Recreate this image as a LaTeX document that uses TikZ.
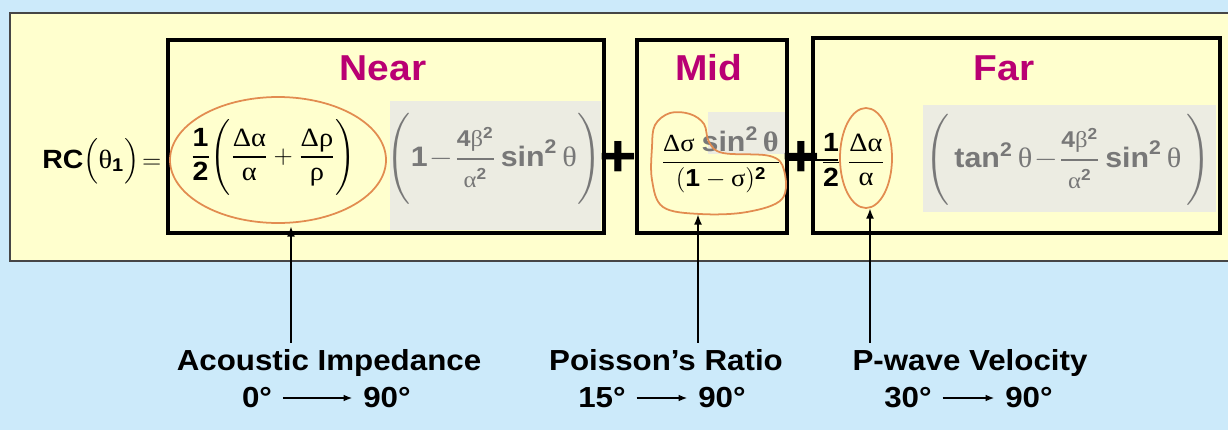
\documentclass[tikz,border=0pt]{standalone}
\usepackage{amsmath}
\usepackage{fontspec}
\setmainfont[FakeStretch=1.08]{Liberation Sans}
\newfontfamily\grk[FakeStretch=1.08]{Liberation Serif}
\usetikzlibrary{arrows.meta,positioning,shapes.geometric}

\definecolor{skyback}{RGB}{204,234,250}
\definecolor{paleband}{RGB}{255,255,206}
\definecolor{bandedge}{RGB}{70,70,70}
\definecolor{shadegray}{RGB}{236,236,226}
\definecolor{termgray}{RGB}{120,120,120}
\definecolor{zonecol}{RGB}{185,0,115}
\definecolor{ringorange}{RGB}{226,140,80}

\newcommand{\gal}{\text{\grk α}}
\newcommand{\grho}{\text{\grk ρ}}
\newcommand{\gsig}{\text{\grk σ}}
\newcommand{\gbet}{\text{\grk β}}
\newcommand{\gthe}{\text{\grk θ}}
\newcommand{\gDel}{\text{\grk Δ}}
\newcommand{\bnum}[1]{\text{\bfseries #1}}
\newcommand{\bsin}{\text{\bfseries sin}}
\newcommand{\btan}{\text{\bfseries tan}}
\newcommand{\betafrac}{\dfrac{\text{\fontsize{13}{15}\selectfont\bfseries 4{\mdseries\grk β}$^{\bnum{2}}$}}%
  {\text{\fontsize{13}{15}\selectfont{\grk α}$^{\bnum{2}}$}}}

\begin{document}
\begin{tikzpicture}[x=0.02cm,y=-0.02cm,
  zone/.style={draw=black,line width=1.8pt},
  zonetitle/.style={font=\fontsize{20.5}{24}\selectfont\bfseries,text=zonecol,anchor=base},
  term/.style={font=\fontsize{15}{17}\selectfont,inner sep=0pt},
  grayterm/.style={font=\fontsize{16}{18}\selectfont,text=termgray,inner sep=0pt},
  shade/.style={fill=shadegray},
  ring/.style={draw=ringorange,line width=1pt},
  plussign/.style={font=\fontsize{34}{34}\selectfont\bfseries,inner sep=0pt},
  caption/.style={font=\fontsize{16.5}{19}\selectfont\bfseries,anchor=base},
  degree/.style={font=\fontsize{16.5}{19}\selectfont\bfseries,inner xsep=6pt,inner ysep=1pt},
  ptr/.style={line width=1.4pt,-{Latex[length=6pt,width=4.5pt]}},
  degarrow/.style={line width=0.9pt,-{Latex[length=5pt,width=3.8pt]}}]

  \fill[skyback] (0,0) rectangle (1228,430);
  \useasboundingbox (0,0) rectangle (1228,430);
  \draw[draw=bandedge,fill=paleband,line width=0.8pt] (10,13) rectangle (1240,261);

  \fill[shade] (390,101) rectangle (601,230);
  \fill[shade] (708,112) rectangle (786,154);
  \fill[shade] (923,105) rectangle (1216,212);

  \draw[zone] (168,40) rectangle (604,233);
  \draw[zone] (637,40) rectangle (787,233);
  \draw[zone] (813,38) rectangle (1220,233);

  \node[zonetitle] (neartitle) at (383,80) {Near};
  \node[zonetitle] (midtitle) at (709,80) {Mid};
  \node[zonetitle] (fartitle) at (1004,80) {Far};

  \node[term,anchor=base west] (rc) at (42,168)
    {\textbf{RC}$\Bigl(\gthe_{\bnum{1}}\Bigr)\!=$};
  \node[term] (nearterm) at (273,157)
    {$\dfrac{\bnum{1}}{\bnum{2}}\Biggl(\dfrac{\gDel\gal}{\gal}+\dfrac{\gDel\grho}{\grho}\Biggr)$};
  \node[grayterm] (neargray) at (494,159)
    {$\color{termgray}\Biggl(\bnum{1}\!-\!\betafrac\,\bsin^{\bnum{2}}\,\gthe\Biggr)$};
  \node[plussign] (plusa) at (618,159) {+};
  \node[term,font=\fontsize{14}{16}\selectfont] (midterm) at (721,160)
    {$\dfrac{\gDel\gsig\;\text{\color{termgray}\fontsize{16}{18}\selectfont\bfseries sin$^{\bnum{2}}$\,\grk θ}}{(\bnum{1}-\gsig)^{\bnum{2}}}$};
  \draw[line width=0.6pt] (787,160) -- (838,160);
  \node[plussign] (plusb) at (801,159) {+};
  \node[term] (farhalf) at (831,160) {$\dfrac{\bnum{1}}{\bnum{2}}$};
  \node[term] (farterm) at (866,160) {$\dfrac{\gDel\gal}{\gal}$};
  \node[grayterm] (fargray) at (1068,160)
    {$\color{termgray}\Biggl(\,\btan^{\bnum{2}}\,\gthe\!-\!\betafrac\,\bsin^{\bnum{2}}\,\gthe\,\Biggr)$};

  \node[ring,ellipse,minimum width=216*0.02cm,minimum height=126*0.02cm] (nearring) at (278,160) {};
  \node[ring,ellipse,minimum width=52*0.02cm,minimum height=100*0.02cm] (farring) at (866,158) {};
  \draw[ring] plot[smooth cycle,tension=0.6] coordinates {(652,147) (655,125) (670,113) (690,114) (704,124) (709,142) (723,153)
    (770,156) (784,170) (782,199) (747,212) (700,214) (663,207) (652,180)};
  \coordinate (neartip) at (291,226);
  \coordinate (midtip) at (698,214);
  \coordinate (fartip) at (870,208);

  \node[caption] (acoustic) at (329,370) {Acoustic Impedance};
  \node[caption] (poisson) at (666,370) {Poisson’s Ratio};
  \node[caption] (pwave) at (970,370) {P-wave Velocity};

  \node[degree] (nearfrom) at (257,398) {0°};
  \node[degree] (nearto) at (387,398) {90°};
  \node[degree] (midfrom) at (602,398) {15°};
  \node[degree] (midto) at (722,398) {90°};
  \node[degree] (farfrom) at (908,398) {30°};
  \node[degree] (farto) at (1029,398) {90°};

  \draw[ptr] (acoustic.north -| neartip) -- (neartip);
  \draw[ptr] (poisson.north -| midtip) -- (midtip);
  \draw[ptr] (pwave.north -| fartip) -- (fartip);
  \draw[degarrow] (nearfrom) -- (nearto);
  \draw[degarrow] (midfrom) -- (midto);
  \draw[degarrow] (farfrom) -- (farto);
\end{tikzpicture}
\end{document}
